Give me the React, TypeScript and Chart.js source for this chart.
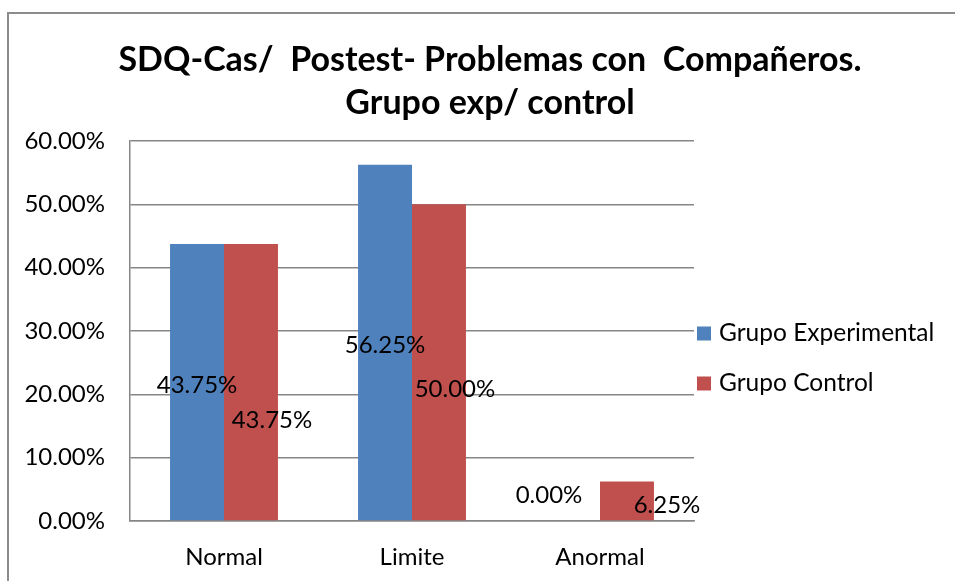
import React, { useEffect, useRef } from "react";
import { Chart, registerables } from "chart.js";

Chart.register(...registerables);

const titleLines = ["SDQ-Cas/  Postest- Problemas con  Compañeros.", "Grupo exp/ control"];
const categories = ["Normal", "Limite", "Anormal"];
const seriesNames = ["Grupo Experimental", "Grupo Control"];
const experimental = [43.75, 56.25, 0.0];
const control = [43.75, 50.0, 6.25];
const yMin = 0;
const yMax = 60;
const yStep = 10;

const COLORS = ["#4F81BD", "#C0504D"];
const FONT = "Lato, 'Liberation Sans', sans-serif";
// manual label nudges (relative to each bar's centre), as in the original chart
const labelNudge = [
  [[0, 3], [0, 3], [-24, -26]],
  [[21, 38], [16, 27], [40, 4]],
];

const fmt = (v: number) => v.toFixed(2) + "%";

const decorPlugin = {
  id: "decor",
  afterDraw(chart: any) {
    const ctx = chart.ctx;
    ctx.save();
    // outer frame
    ctx.strokeStyle = "#8c8c8c";
    ctx.lineWidth = 2;
    ctx.beginPath();
    ctx.moveTo(8, chart.height + 2);
    ctx.lineTo(8, 13);
    ctx.lineTo(chart.width + 2, 13);
    ctx.stroke();

    // title
    ctx.fillStyle = "#000";
    ctx.font = `bold 34px ${FONT}`;
    ctx.textAlign = "center";
    ctx.textBaseline = "alphabetic";
    titleLines.forEach((t, i) => ctx.fillText(t, 490, 71 + i * 43));

    // data labels
    ctx.font = `24px ${FONT}`;
    ctx.textBaseline = "middle";
    chart.data.datasets.forEach((ds: any, di: number) => {
      const meta = chart.getDatasetMeta(di);
      meta.data.forEach((bar: any, i: number) => {
        const [dx, dy] = labelNudge[di][i];
        const midY = (bar.y + bar.base) / 2;
        ctx.fillText(fmt(ds.data[i]), bar.x + dx, midY + dy);
      });
    });

    // legend
    const area = chart.chartArea;
    ctx.textAlign = "left";
    ctx.font = `24.5px ${FONT}`;
    chart.data.datasets.forEach((ds: any, di: number) => {
      const cy = 333.5 + di * 50;
      ctx.fillStyle = ds.backgroundColor;
      ctx.fillRect(area.right + 3, cy - 7, 14, 14);
      ctx.fillStyle = "#000";
      ctx.fillText(ds.label, area.right + 25, cy);
    });
    ctx.restore();
  },
};

export default function App() {
  const ref = useRef<HTMLCanvasElement | null>(null);
  useEffect(() => {
    if (!ref.current) return;
    const chart = new Chart(ref.current, {
      type: "bar",
      data: {
        labels: categories,
        datasets: [
          { label: seriesNames[0], data: experimental, backgroundColor: COLORS[0] },
          { label: seriesNames[1], data: control, backgroundColor: COLORS[1] },
        ],
      },
      options: {
        animation: false,
        responsive: false,
        maintainAspectRatio: false,
        layout: { padding: { top: 141, left: 0, right: 261, bottom: 0 } },
        datasets: { bar: { categoryPercentage: 0.574, barPercentage: 1 } },
        plugins: {
          legend: { display: false },
          title: { display: false },
          tooltip: { enabled: false },
        },
        scales: {
          x: {
            grid: { display: false, drawTicks: false },
            border: { display: true, color: "#868686", width: 1.5 },
            ticks: { color: "#000", font: { family: FONT, size: 24 }, padding: 22 },
            afterFit: (s: any) => { s.height = 60; },
          },
          y: {
            min: yMin,
            max: yMax,
            grid: { color: "#868686", lineWidth: 1.5, drawTicks: false },
            border: { display: true, color: "#868686", width: 1.5 },
            ticks: {
              stepSize: yStep,
              color: "#000",
              font: { family: FONT, size: 24 },
              padding: 25,
              callback: (v: any) => fmt(Number(v)),
            },
            afterFit: (s: any) => { s.width = 130; },
          },
        },
      },
      plugins: [decorPlugin],
    });
    return () => chart.destroy();
  }, []);
  return (
    <div style={{ position: "fixed", left: 0, top: 0, width: 955, height: 581, background: "#fff" }}>
      <canvas ref={ref} width={955} height={581} style={{ display: "block", width: 955, height: 581 }} />
    </div>
  );
}
